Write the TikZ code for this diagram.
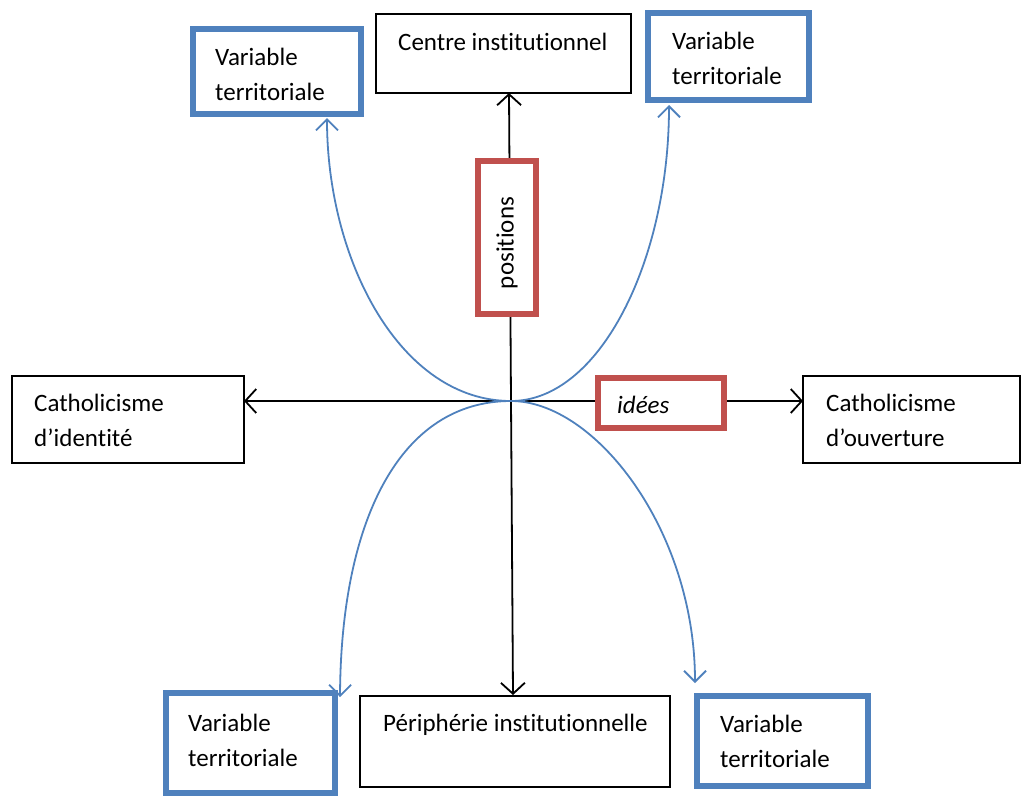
\documentclass[tikz,border=0pt]{standalone}
\usepackage{fontspec}
\setmainfont{Carlito}[Ligatures=NoCommon]
\usetikzlibrary{arrows.meta}
\definecolor{oblue}{HTML}{4F81BD}
\definecolor{ored}{HTML}{C0504D}
\tikzset{
  plainbox/.style={draw=black, line width=1.2pt, fill=white},
  bluebox/.style={draw=oblue, line width=6pt, fill=white},
  redbox/.style={draw=ored, line width=5.5pt, fill=white},
  txt/.style={font=\fontsize{25}{35}\selectfont, inner sep=0pt, anchor=base west, align=left},
  axis/.style={draw=black, line width=1.8pt, -{Straight Barb[length=11pt,width=24pt,line width=1.8pt]}},
  curve/.style={draw=oblue, line width=1.8pt, -{Straight Barb[length=11pt,width=22pt,line width=1.8pt]}}
}
\begin{document}
\begin{tikzpicture}[x=1pt,y=-1pt]
\useasboundingbox (0,0) rectangle (1024,796);
% plain boxes
\path[plainbox] (376,14) rectangle (631,93);
\coordinate (centreS) at (509,93);
\path[plainbox] (12,376) rectangle (244,463);
\coordinate (leftE) at (244,401);
\path[plainbox] (803,376) rectangle (1020,463);
\coordinate (rightW) at (803,401);
\path[plainbox] (360,696) rectangle (670,787);
\coordinate (periN) at (513,695);
\coordinate (o) at (511,401);
% axes
\draw[axis] (o) -- (centreS);
\draw[axis] (o) -- (periN);
\draw[axis] (o) -- (leftE);
\draw[axis] (o) -- (rightW);
% curves
\coordinate (tlS) at (327,118);
\coordinate (trS) at (669,105);
\coordinate (blN) at (340,697);
\coordinate (brN) at (695,683);
\draw[curve] (o) .. controls (400,401) and (327,260) .. (tlS);
\draw[curve] (o) .. controls (600,401) and (669,260) .. (trS);
\draw[curve] (o) .. controls (400,401) and (341,520) .. (blN);
\draw[curve] (o) .. controls (595,401) and (695,530) .. (brN);
% blue boxes
\path[bluebox] (193,29) rectangle (361,114);
\path[bluebox] (648,13) rectangle (809,100);
\path[bluebox] (166,693) rectangle (335,793);
\path[bluebox] (697,696) rectangle (868,786);
% red boxes
\path[redbox] (478,161) rectangle (536,314);
\path[redbox] (598,378) rectangle (724,428);
% texts
\node[txt] (t1) at (215,100) {Variable\\territoriale};
\node[txt] (t2) at (398,50) {Centre institutionnel};
\node[txt] (t3) at (672,84) {Variable\\territoriale};
\node[txt] (t4) at (34,446) {Catholicisme\\d’identité};
\node[txt] (t5) at (617,413) {\itshape idées};
\node[txt] (t6) at (826,446) {Catholicisme\\d’ouverture};
\node[txt] (t7) at (188,766) {Variable\\territoriale};
\node[txt] (t8) at (383,731) {Périphérie institutionnelle};
\node[txt] (t9) at (720,767) {Variable\\territoriale};
\node[font=\fontsize{25}{35}\selectfont, inner sep=0pt, rotate=90] (t10) at (507,243) {positions};
\end{tikzpicture}
\end{document}
